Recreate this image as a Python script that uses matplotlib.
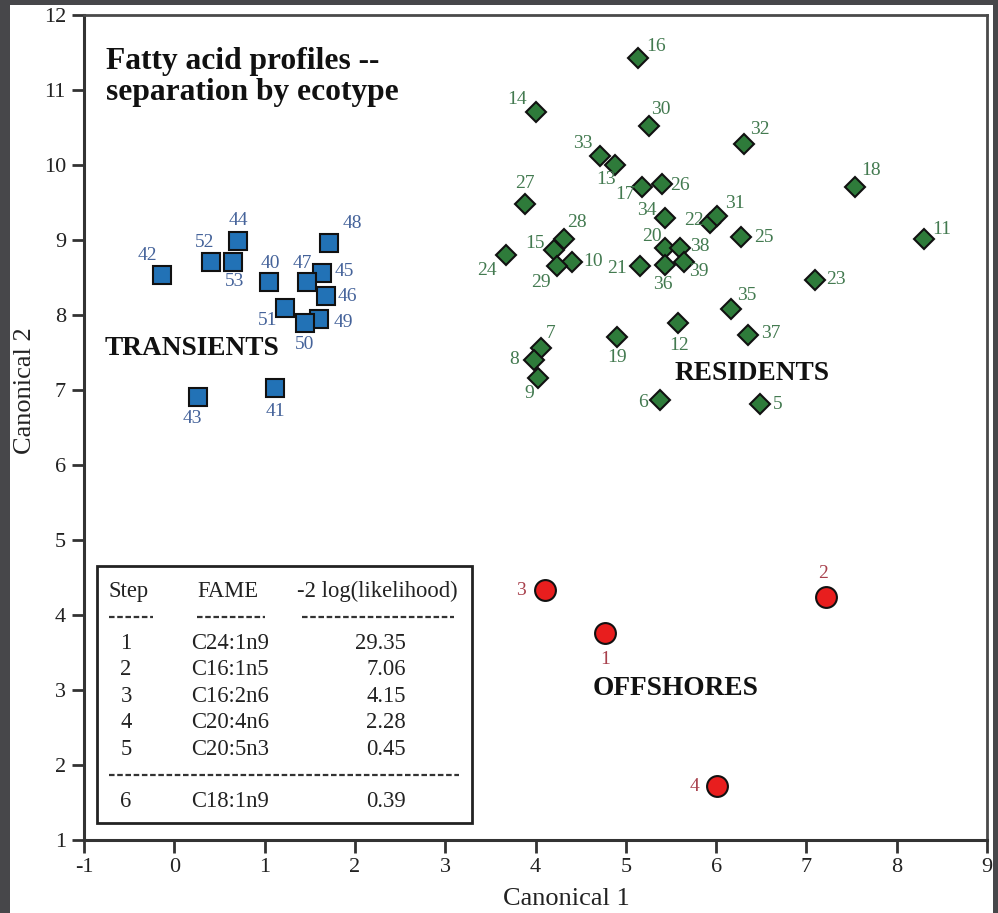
import matplotlib
matplotlib.use("Agg")
import matplotlib.pyplot as plt
from matplotlib.patches import Rectangle
from matplotlib.lines import Line2D

plt.rcParams['font.family'] = ['Liberation Serif', 'DejaVu Serif']
plt.rcParams['axes.unicode_minus'] = False

# ---------------- data ----------------
transient_ids = [40, 41, 42, 43, 44, 45, 46, 47, 48, 49, 50, 51, 52, 53]
transient_x = [1.05, 1.12, -0.14, 0.26, 0.71, 1.64, 1.68, 1.47, 1.71, 1.60, 1.45, 1.23, 0.41, 0.65]
transient_y = [8.44, 7.02, 8.53, 6.90, 8.99, 8.56, 8.25, 8.44, 8.96, 7.94, 7.89, 8.09, 8.70, 8.70]

resident_ids = [5, 6, 7, 8, 9, 10, 11, 12, 13, 14, 15, 16, 17, 18, 19, 20, 21, 22,
                23, 24, 25, 26, 27, 28, 29, 30, 31, 32, 33, 34, 35, 36, 37, 38, 39]
resident_x = [6.49, 5.38, 4.06, 3.98, 4.03, 4.40, 8.30, 5.58, 4.88, 4.01, 4.21, 5.14,
              5.18, 7.54, 4.90, 5.43, 5.16, 5.93, 7.10, 3.67, 6.28, 5.40, 3.88, 4.32,
              4.24, 5.26, 6.01, 6.31, 4.71, 5.43, 6.16, 5.43, 6.35, 5.60, 5.64]
resident_y = [6.81, 6.87, 7.56, 7.40, 7.16, 8.70, 9.01, 7.89, 10.00, 10.70, 8.86, 11.42,
              9.71, 9.71, 7.71, 8.89, 8.65, 9.23, 8.47, 8.80, 9.04, 9.75, 9.48, 9.01,
              8.65, 10.52, 9.32, 10.28, 10.12, 9.29, 8.08, 8.67, 7.73, 8.89, 8.71]

offshore_ids = [1, 2, 3, 4]
offshore_x = [4.77, 7.22, 4.10, 6.01]
offshore_y = [3.76, 4.24, 4.33, 1.72]

table_steps = ["1", "2", "3", "4", "5"]
table_fames = ["C24:1n9", "C16:1n5", "C16:2n6", "C20:4n6", "C20:5n3"]
table_loglik = ["29.35", "7.06", "4.15", "2.28", "0.45"]
extra_step = "6"
extra_fame = "C18:1n9"
extra_loglik = "0.39"

x_ticks = [-1, 0, 1, 2, 3, 4, 5, 6, 7, 8, 9]
y_ticks = [1, 2, 3, 4, 5, 6, 7, 8, 9, 10, 11, 12]

# label offsets (pixels, screen y up) -- styling only
label_off = {
    40: (1, 18), 41: (0, -23), 42: (-14, 20), 43: (-5, -21), 44: (0, 20), 45: (22, 2),
    46: (21, 0), 47: (-5, 18), 48: (24, 19), 49: (25, -3), 50: (-1, -21), 51: (-18, -12),
    52: (-7, 20), 53: (2, -19),
    5: (17, 0), 6: (-17, -3), 7: (10, 15), 8: (-20, 0), 9: (-9, -15), 10: (21, 1),
    11: (18, 10), 12: (1, -22), 13: (-9, -15), 14: (-19, 13), 15: (-19, 7), 16: (18, 12),
    17: (-17, -8), 18: (16, 16), 19: (0, -21), 20: (-13, 12), 21: (-23, -2), 22: (-16, 2),
    23: (21, 0), 24: (-19, -16), 25: (22, 0), 26: (18, -2), 27: (0, 21), 28: (13, 17),
    29: (-16, -16), 30: (12, 17), 31: (18, 13), 32: (16, 14), 33: (-17, 12), 34: (-18, 8),
    35: (16, 14), 36: (-2, -20), 37: (23, 2), 38: (20, 2), 39: (15, -10),
    1: (0, -26), 2: (-3, 24), 3: (-24, 0), 4: (-23, 0),
}

# ---------------- figure ----------------
W, H = 998, 913
fig = plt.figure(figsize=(W / 100, H / 100), dpi=100)
fig.patch.set_facecolor('#47474a')
fig.patches.append(Rectangle((10 / W, 0), (993 - 10) / W, (H - 5) / H,
                             transform=fig.transFigure, facecolor='white',
                             edgecolor='none', zorder=-5))

L, R, T, B = 84, 987, 15, 840
ax = fig.add_axes([L / W, (H - B) / H, (R - L) / W, (B - T) / H])
ax.set_zorder(1)
ax.set_xlim(-1, 9)
ax.set_ylim(1, 12)
ax.set_facecolor('white')

for s in ['left', 'bottom']:
    ax.spines[s].set_linewidth(2.2)
    ax.spines[s].set_color('#333333')
for s in ['top', 'right']:
    ax.spines[s].set_linewidth(2.0)
    ax.spines[s].set_color('#4a4a4a')

ax.set_xticks(x_ticks)
ax.set_yticks(y_ticks)
ax.tick_params(direction='out', length=9, width=2, color='#333333',
               labelsize=16, labelcolor='#222222', pad=4)

ax.set_xlabel("Canonical 1", fontsize=19, color='#222222')
ax.xaxis.set_label_coords(0.534, -0.058)
ax.set_ylabel("Canonical 2", fontsize=19, color='#222222')
ax.yaxis.set_label_coords(-0.053, 0.545)

# markers
ax.plot(transient_x, transient_y, linestyle='none', marker='s', markersize=13,
        markerfacecolor='#2272b6', markeredgecolor='#111111', markeredgewidth=1.5, zorder=3)
ax.plot(resident_x, resident_y, linestyle='none', marker='D', markersize=10.5,
        markerfacecolor='#2e7b3a', markeredgecolor='#111111', markeredgewidth=1.5, zorder=3)
ax.plot(offshore_x, offshore_y, linestyle='none', marker='o', markersize=15,
        markerfacecolor='#e81e1e', markeredgecolor='#111111', markeredgewidth=1.5, zorder=3)

def labels(ids, xs, ys, color):
    for i, x, y in zip(ids, xs, ys):
        dx, dy = label_off[i]
        ax.annotate(str(i), (x, y), xytext=(dx * 0.72, dy * 0.72),
                    textcoords='offset points', ha='center', va='center',
                    fontsize=14, color=color, zorder=4)

labels(transient_ids, transient_x, transient_y, '#45639a')
labels(resident_ids, resident_x, resident_y, '#437a50')
labels(offshore_ids, offshore_x, offshore_y, '#a8404c')

# group labels and title
ax.text(-0.767, 7.47, "TRANSIENTS", fontsize=19.7, fontweight='bold', color='#111111',
        ha='left', va='baseline')
ax.text(5.545, 7.13, "RESIDENTS", fontsize=19.7, fontweight='bold', color='#111111',
        ha='left', va='baseline')
ax.text(4.637, 2.93, "OFFSHORES", fontsize=19.7, fontweight='bold', color='#111111',
        ha='left', va='baseline')
ax.text(-0.76, 11.58, "Fatty acid profiles --\nseparation by ecotype", fontsize=22.7,
        fontweight='bold', color='#111111', ha='left', va='top', linespacing=1.12)

# ---------------- table ----------------
def fx(px):
    return (px - L) / (R - L)

def fy(py):
    return (B - py) / (B - T)

tr = ax.transAxes
ax.add_patch(Rectangle((fx(97), fy(823)), fx(472) - fx(97), fy(566) - fy(823),
                       transform=tr, facecolor='white', edgecolor='#222222',
                       linewidth=2, zorder=2))
tfs = 16.3
tcol = '#222222'
ax.text(fx(129), fy(597), "Step", transform=tr, ha='center', va='baseline', fontsize=tfs, color=tcol, zorder=3)
ax.text(fx(228), fy(597), "FAME", transform=tr, ha='center', va='baseline', fontsize=tfs, color=tcol, zorder=3)
ax.text(fx(377), fy(597), "-2 log(likelihood)", transform=tr, ha='center', va='baseline', fontsize=tfs, color=tcol, zorder=3)

dash_style = (0, (2.5, 1.2))
for x0, x1, yy in [(109, 153, 617), (197, 265, 617), (302, 454, 617), (109, 459, 775)]:
    ax.add_line(Line2D([fx(x0), fx(x1)], [fy(yy), fy(yy)], transform=tr,
                       color='#333333', linewidth=1.6, linestyle=dash_style, zorder=3))

row_base = [649, 675, 702, 728, 755]
for yy, st, fa, lk in zip(row_base, table_steps, table_fames, table_loglik):
    ax.text(fx(126), fy(yy), st, transform=tr, ha='center', va='baseline', fontsize=tfs, color=tcol, zorder=3)
    ax.text(fx(230), fy(yy), fa, transform=tr, ha='center', va='baseline', fontsize=tfs, color=tcol, zorder=3)
    ax.text(fx(406), fy(yy), lk, transform=tr, ha='right', va='baseline', fontsize=tfs, color=tcol, zorder=3)
ax.text(fx(126), fy(807), extra_step, transform=tr, ha='center', va='baseline', fontsize=tfs, color=tcol, zorder=3)
ax.text(fx(230), fy(807), extra_fame, transform=tr, ha='center', va='baseline', fontsize=tfs, color=tcol, zorder=3)
ax.text(fx(406), fy(807), extra_loglik, transform=tr, ha='right', va='baseline', fontsize=tfs, color=tcol, zorder=3)

fig.savefig("out.png", dpi=100, facecolor=fig.get_facecolor())
